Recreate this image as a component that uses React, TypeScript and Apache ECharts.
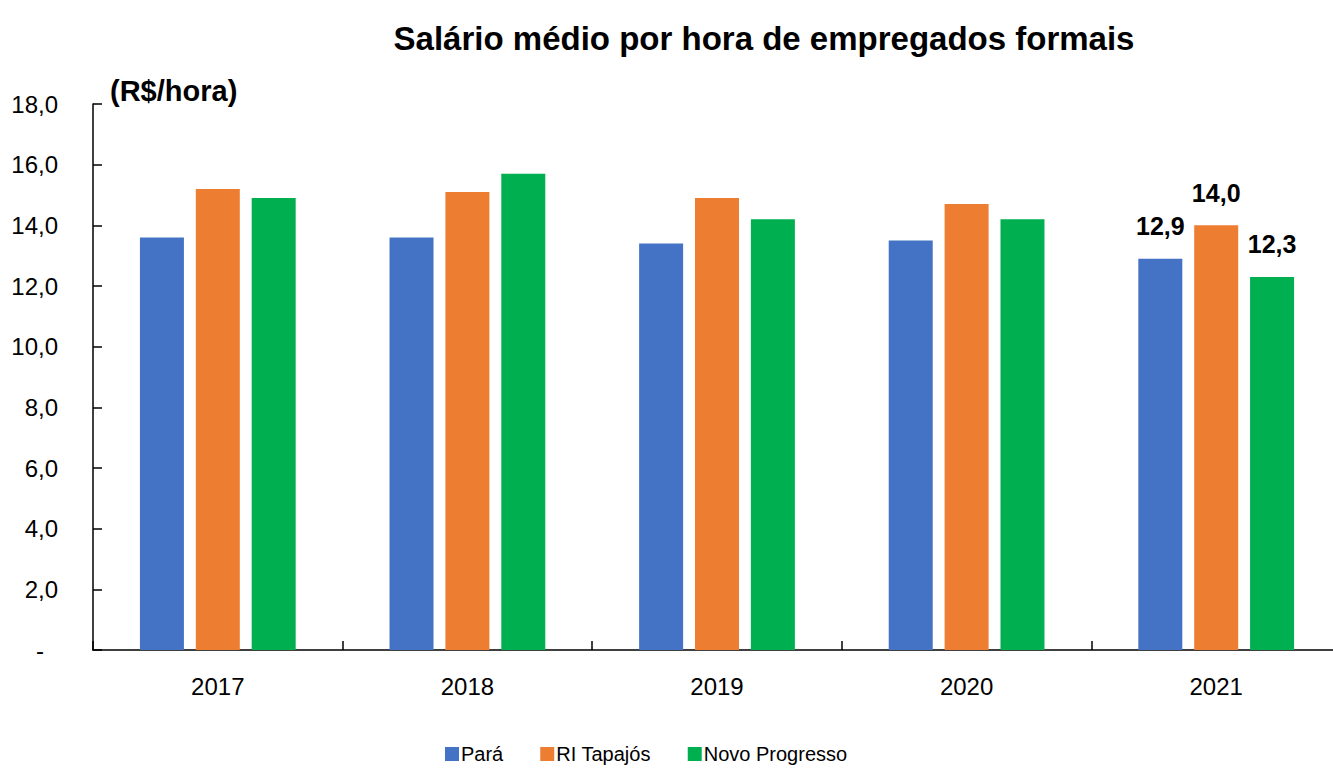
import React, { useEffect, useRef } from "react";
import * as echarts from "echarts";

const years = ["2017", "2018", "2019", "2020", "2021"];
const para = [13.6, 13.6, 13.4, 13.5, 12.9];
const riTapajos = [15.2, 15.1, 14.9, 14.7, 14.0];
const novoProgresso = [14.9, 15.7, 14.2, 14.2, 12.3];
const seriesNames = ["Pará", "RI Tapajós", "Novo Progresso"];
const colors = ["#4472C4", "#ED7D31", "#00B050"];
const labeledIndex = 4;

const FONT = "'Liberation Sans', Arial, sans-serif";

const fmt = (v: number) => v.toFixed(1).replace(".", ",");

export default function App() {
  const ref = useRef<HTMLDivElement>(null);
  useEffect(() => {
    if (!ref.current) return;
    const chart = echarts.init(ref.current, undefined, { renderer: "svg" });
    const mk = (name: string, values: number[], color: string) => ({
      name,
      type: "bar",
      barWidth: 44,
      barGap: "27%",
      itemStyle: { color },
      data: values.map((v, i) =>
        i === labeledIndex
          ? {
              value: v,
              label: {
                show: true,
                position: "top",
                distance: 20,
                formatter: (p: any) => fmt(p.value),
                fontFamily: FONT,
                fontWeight: "bold",
                fontSize: 25,
                color: "#000",
              },
            }
          : v
      ),
    });
    chart.setOption({
      animation: false,
      backgroundColor: "#fff",
      title: {
        text: "Salário médio por hora de empregados formais",
        left: 759,
        top: 17,
        textAlign: "center",
        textStyle: { fontFamily: FONT, fontWeight: "bold", fontSize: 33, color: "#000" },
      },
      graphic: [
        {
          type: "text",
          left: 110,
          top: 76,
          style: { text: "(R$/hora)", fontFamily: FONT, fontWeight: "bold", fontSize: 29, fill: "#000" },
        },
      ],
      legend: {
        bottom: 7,
        left: 440,
        itemWidth: 14,
        itemHeight: 14,
        itemGap: 37,
        icon: "rect",
        textStyle: { fontFamily: FONT, fontSize: 20, color: "#000", padding: [0, 0, 0, -3] },
        data: seriesNames,
      },
      grid: { left: 93, right: 0, top: 104, bottom: 126, containLabel: false },
      xAxis: {
        type: "category",
        data: years,
        axisLine: { lineStyle: { color: "#000", width: 1.5 } },
        axisTick: { show: true, inside: true, length: 9, lineStyle: { color: "#000", width: 1.5 } },
        axisLabel: { fontFamily: FONT, fontSize: 24, color: "#000", margin: 24 },
      },
      yAxis: {
        type: "value",
        min: 0,
        max: 18,
        interval: 2,
        splitLine: { show: false },
        axisLine: { show: true, lineStyle: { color: "#000", width: 1.5 } },
        axisTick: { show: true, inside: true, length: 9, lineStyle: { color: "#000", width: 1.5 } },
        axisLabel: {
          fontFamily: FONT,
          fontSize: 24,
          color: "#000",
          margin: 35,
          align: "right",
          formatter: (v: number) => (v === 0 ? "{d|-}" : fmt(v)),
          rich: { d: { fontFamily: FONT, fontSize: 24, color: "#000", padding: [0, 14, 0, 0] } },
        },
      },
      series: [
        mk(seriesNames[0], para, colors[0]),
        mk(seriesNames[1], riTapajos, colors[1]),
        mk(seriesNames[2], novoProgresso, colors[2]),
      ],
    });
    return () => chart.dispose();
  }, []);
  return (
    <div style={{ width: 1333, height: 776, position: "absolute", left: 0, top: 0, overflow: "hidden", background: "#fff" }}>
      <div ref={ref} style={{ width: 1341, height: 776 }} />
    </div>
  );
}
